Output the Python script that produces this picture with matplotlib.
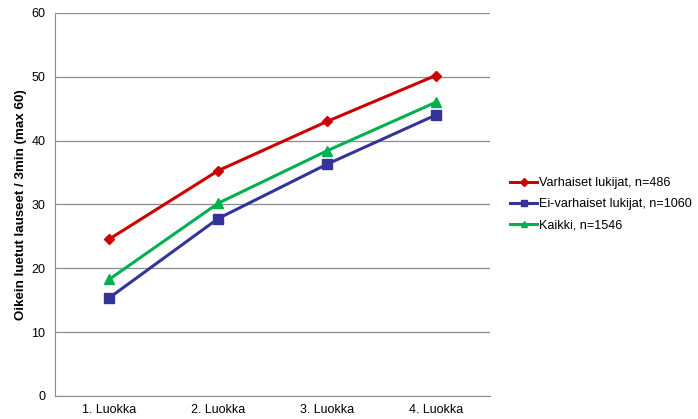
import matplotlib.pyplot as plt

plt.rcParams['font.family'] = ['Liberation Sans', 'DejaVu Sans']

# data
luokat = ['1. Luokka', '2. Luokka', '3. Luokka', '4. Luokka']
varhaiset = [24.6, 35.3, 43.0, 50.2]
ei_varhaiset = [15.4, 27.8, 36.3, 44.0]
kaikki = [18.3, 30.2, 38.4, 46.0]
nimet = ['Varhaiset lukijat, n=486', 'Ei-varhaiset lukijat, n=1060', 'Kaikki, n=1546']

fig = plt.figure(figsize=(6.98, 4.19), dpi=100)
ax = fig.add_axes([0.079, 0.055, 0.623, 0.914])

x = range(len(luokat))
ax.plot(x, varhaiset, color='#CC0000', lw=2.2, marker='D', ms=5.5, label=nimet[0])
ax.plot(x, ei_varhaiset, color='#333399', lw=2.2, marker='s', ms=7, label=nimet[1])
ax.plot(x, kaikki, color='#00B050', lw=2.2, marker='^', ms=7, label=nimet[2])

ax.set_xlim(-0.5, 3.5)
ax.set_ylim(0, 60)
ax.set_yticks(range(0, 61, 10))
ax.set_xticks(list(x))
ax.set_xticklabels(luokat)
ax.yaxis.grid(True, color='#8c8c8c', lw=0.9)
ax.set_axisbelow(True)
for s in ['top', 'right']:
    ax.spines[s].set_visible(False)
ax.spines['left'].set_color('#8c8c8c')
ax.spines['bottom'].set_color('#8c8c8c')
ax.tick_params(axis='both', length=0, labelsize=9, colors='#000000', pad=7)
ax.tick_params(axis='x', pad=6)
ax.set_ylabel('Oikein luetut lauseet / 3min (max 60)', fontsize=9.6, fontweight='bold', labelpad=3)

ax.legend(loc='center left', bbox_to_anchor=(1.02, 0.5), frameon=False, fontsize=9.1,
          handlelength=2.15, handletextpad=0.15, labelspacing=0.72, markerscale=0.7)

fig.savefig('out.png', dpi=100)
